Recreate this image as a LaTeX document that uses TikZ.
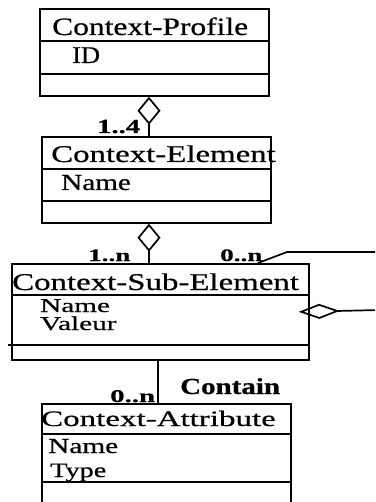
\documentclass[tikz,border=0pt]{standalone}
\usepackage{fontspec}
\setmainfont{Liberation Serif}
\newcommand{\fs}[1]{\fontsize{#1}{#1}\selectfont}
% stretched serif: #1 = horizontal stretch, #2 = size
\newcommand{\sfont}[2]{\fontspec[FakeStretch=#1, FakeBold=0.6]{Liberation Serif}\fs{#2}}
\usepackage{tikz}
\usetikzlibrary{arrows.meta}
\tikzset{
  umlbox/.style={draw, line width=1.7pt, inner sep=0pt, anchor=north west},
  umlline/.style={line width=1.7pt},
  lbl/.style={anchor=base west, inner sep=0pt},
  aggreg/.style={umlline, -{Diamond[open, length=28pt, width=23pt]}},
}

\begin{document}
\begin{tikzpicture}[x=1pt, y=-1pt]
\useasboundingbox (0,0) rectangle (375,502);
\clip (0,0) rectangle (375,502);

% class boxes
\node[umlbox, minimum width=229pt, minimum height=87pt] (profile) at (39,8) {};
\node[umlbox, minimum width=229pt, minimum height=86pt] (element) at (41,136) {};
\node[umlbox, minimum width=297pt, minimum height=96pt] (subelem) at (11,263) {};
\node[umlbox, minimum width=249pt, minimum height=130pt] (attrib) at (41,403) {};

% compartments
\draw[umlline] (profile.west |- 0,41) -- (profile.east |- 0,41);
\draw[umlline] (profile.west |- 0,74) -- (profile.east |- 0,74);
\draw[umlline] (element.west |- 0,169) -- (element.east |- 0,169);
\draw[umlline] (element.west |- 0,201) -- (element.east |- 0,201);
\draw[umlline] (subelem.west |- 0,295) -- (subelem.east |- 0,295);
\draw[umlline] ([xshift=-3pt]subelem.west |- 0,345) -- (subelem.east |- 0,345);
\draw[umlline] (attrib.west |- 0,434) -- (attrib.east |- 0,434);
\draw[umlline] (attrib.west |- 0,482) -- (attrib.east |- 0,482);

% texts
\node[lbl, font=\sfont{1.26}{25}] (profile-name) at (52,35) {Context-Profile};
\node[lbl, font=\sfont{1.1}{24}] (profile-id) at (72,63) {ID};
\node[lbl, font=\sfont{1.37}{24}] (element-name) at (51,162) {Context-Element};
\node[lbl, font=\sfont{1.27}{23}] (element-attr) at (61,190) {Name};
\node[lbl, font=\sfont{1.37}{24}] (subelem-name) at (12,290) {Context-Sub-Element};
\node[lbl, font=\sfont{1.5}{19.5}] (subelem-attr1) at (40,312) {Name};
\node[lbl, font=\sfont{1.5}{19.5}] (subelem-attr2) at (40,330) {Valeur};
\node[lbl, font=\sfont{1.5}{22}] (attrib-name) at (41,426) {Context-Attribute};
\node[lbl, font=\sfont{1.37}{21.4}] (attrib-attr1) at (48,453) {Name};
\node[lbl, font=\sfont{1.38}{20.5}] (attrib-attr2) at (50,477) {Type};

% multiplicities
\node[lbl, font=\sfont{1.43}{20}\bfseries] (mult-a) at (97,133) {1..4};
\node[lbl, font=\sfont{1.55}{17.5}\bfseries] (mult-b) at (88,261) {1..n};
\node[lbl, font=\sfont{1.55}{17.5}\bfseries] (mult-c) at (220,261) {0..n};
\node[lbl, font=\sfont{1.6}{18}\bfseries] (mult-d) at (110,402) {0..n};
\node[lbl, font=\sfont{1.26}{23}\bfseries] (contain) at (180,394) {Contain};

% associations
\draw[aggreg] (element.north -| 149,0) -- (profile.south -| 149,0);
\draw[aggreg] (subelem.north -| 149,0) -- (element.south -| 149,0);
\draw[umlline] (subelem.south -| 158,0) -- (attrib.north -| 158,0);

% self association
\coordinate (loop-a) at (380,252);
\coordinate (loop-b) at (380,310);
\draw[umlline] (subelem.north -| 258,0) -- (287,252) -- (loop-a);
\draw[umlline, -{Diamond[open, length=41pt, width=15pt]}] (loop-b) -- ([xshift=-11pt]subelem.east);
\end{tikzpicture}
\end{document}
